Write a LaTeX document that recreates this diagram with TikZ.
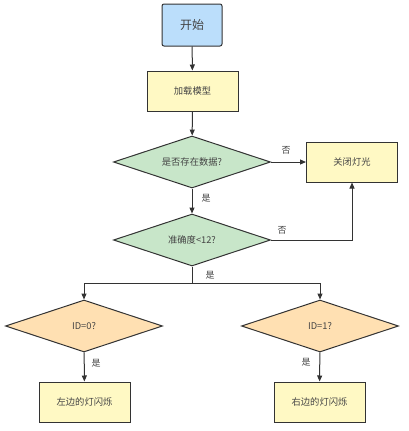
\documentclass[tikz,border=0pt]{standalone}
\usepackage{fontspec}
\setmainfont{Noto Sans CJK SC}
\usetikzlibrary{shapes.geometric,arrows.meta}
\definecolor{bluef}{HTML}{BBDEFB}
\definecolor{yelf}{HTML}{FFF9C4}
\definecolor{grnf}{HTML}{C8E6C9}
\definecolor{orgf}{HTML}{FFE0B2}
\definecolor{edge}{HTML}{333333}
\definecolor{txt}{HTML}{444444}
\begin{document}
\begin{tikzpicture}[x=1pt,y=-1pt,
  box/.style={draw=edge,line width=1pt,fill=yelf,minimum width=91pt,minimum height=40pt,inner sep=0pt,font=\fontsize{9.3}{11}\selectfont,text=txt},
  startbox/.style={draw=edge,line width=1pt,fill=bluef,rounded corners=2pt,minimum width=60pt,minimum height=42pt,inner sep=0pt,font=\fontsize{12}{14}\selectfont,text=txt},
  dia/.style={draw=edge,line width=1pt,diamond,aspect=3.02,minimum width=157pt,minimum height=52pt,inner sep=0pt,font=\fontsize{9.3}{11}\selectfont,text=txt},
  conn/.style={draw=edge,line width=1pt,-{Triangle[length=6pt,width=5pt]}},
  lbl/.style={font=\fontsize{9}{10}\selectfont,text=txt,inner sep=0pt}]
\useasboundingbox (0,0) rectangle (408,431);
\node[startbox] (start) at (192,25) {开始};
\node[box] (load) at (192.5,91) {加载模型};
\node[dia,fill=grnf] (d1) at (192,162) {是否存在数据?};
\node[box] (off) at (352,162) {关闭灯光};
\node[dia,fill=grnf] (d2) at (192,240) {准确度<12?};
\node[dia,fill=orgf] (d3) at (84,326) {ID=0?};
\node[dia,fill=orgf] (d4) at (320,326) {ID=1?};
\node[box] (left) at (84.5,402) {左边的灯闪烁};
\node[box] (right) at (319.5,402) {右边的灯闪烁};
\coordinate (split) at (192,283);
\draw[conn] (start) -- (load);
\draw[conn] (load) -- (d1);
\draw[conn] (d1) -- (off);
\draw[conn] (d1) -- (d2);
\draw[conn] (d2.east) -| (off.south);
\draw[draw=edge,line width=1pt] (d2.south) -- (split);
\draw[conn] (split) -| (d3.north);
\draw[conn] (split) -| (d4.north);
\draw[conn] (d3) -- (left);
\draw[conn] (d4) -- (right);
\node[lbl] (l1) at (286,150) {否};
\node[lbl] (l2) at (206,198) {是};
\node[lbl] (l3) at (282,230) {否};
\node[lbl] (l4) at (210,275) {是};
\node[lbl] (l5) at (96,363) {是};
\node[lbl] (l6) at (306,362) {是};
\end{tikzpicture}
\end{document}
